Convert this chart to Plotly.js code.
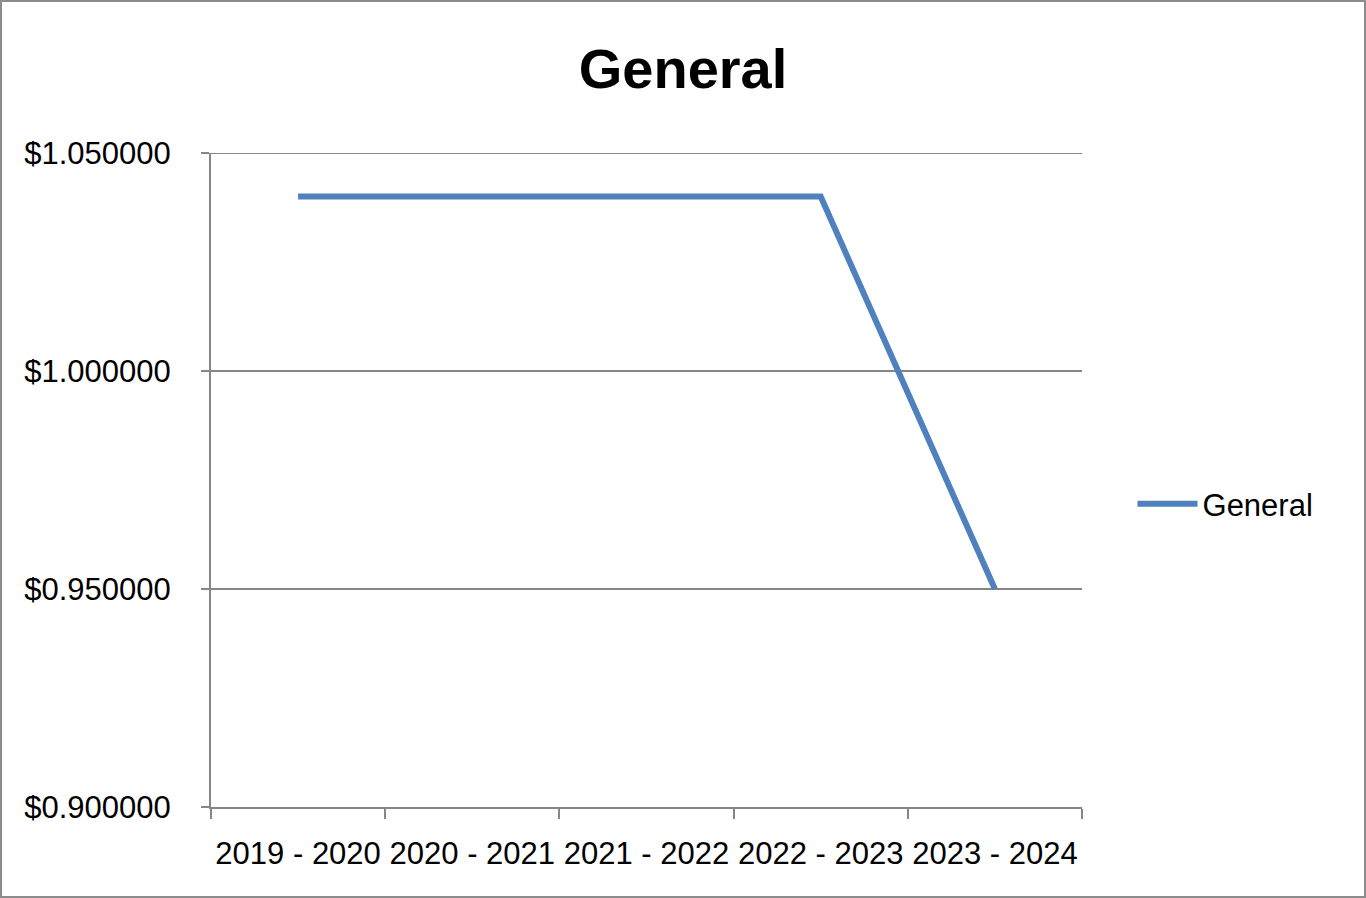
<!DOCTYPE html>
<html>
<head>
<meta charset="utf-8">
<script src="https://cdn.plot.ly/plotly-3.0.1.min.js"></script>
<style>
html,body{margin:0;padding:0;background:#fff;}
#chart{width:1366px;height:898px;box-sizing:border-box;border:2px solid #8c8c8c;}
</style>
</head>
<body>
<div id="chart"></div>
<script>
const categories = ["2019 - 2020","2020 - 2021","2021 - 2022","2022 - 2023","2023 - 2024"];
const generalValues = [1.04, 1.04, 1.04, 1.04, 0.95];
const seriesName = "General";
const chartTitle = "General";
const yMin = 0.9, yMax = 1.05, yStep = 0.05;

const fontFam = "Liberation Sans, Arial, sans-serif";
const axisColor = "#868686";

Plotly.newPlot("chart", [{
  x: categories,
  y: generalValues,
  name: seriesName,
  type: "scatter",
  mode: "lines",
  line: {color: "#4F81BD", width: 6},
  showlegend: true
}], {
  width: 1362, height: 894,
  margin: {l: 209, r: 282, t: 151, b: 89},
  paper_bgcolor: "#fff", plot_bgcolor: "#fff",
  font: {family: fontFam, size: 31, color: "#000"},
  title: {text: chartTitle, font: {family: fontFam, size: 56, weight: "bold", color: "#000"}, x: 0.5, xanchor: "center", y: 0.926, yanchor: "middle"},
  xaxis: {
    type: "category",
    tickson: "boundaries",
    tickangle: 0,
    ticks: "outside", ticklen: 10, tickwidth: 2, tickcolor: axisColor,
    showline: true, linecolor: axisColor, linewidth: 2,
    showgrid: false, zeroline: false,
    ticklabelstandoff: 18,
    tickfont: {size: 31, family: fontFam, color: "#000"},
    range: [-0.5, 4.5], fixedrange: true
  },
  yaxis: {
    range: [yMin, yMax], dtick: yStep, tick0: yMin,
    tickformat: "$.6f",
    ticks: "outside", ticklen: 8, tickwidth: 2, tickcolor: axisColor,
    showline: true, linecolor: axisColor, linewidth: 2,
    showgrid: true, gridcolor: axisColor, gridwidth: 2,
    zeroline: false,
    ticklabelstandoff: 24,
    tickfont: {size: 31, family: fontFam, color: "#000"},
    fixedrange: true
  },
  shapes: [{type: "line", xref: "paper", x0: 0, x1: 1, yref: "y", y0: yMax, y1: yMax, line: {color: axisColor, width: 2}, layer: "below"}],
  showlegend: true,
  legend: {x: 1.058, xanchor: "left", y: 0.463, yanchor: "middle", font: {size: 31, family: fontFam, color: "#000"}, bgcolor: "rgba(0,0,0,0)", itemwidth: 60}
}, {displayModeBar: false, staticPlot: true});
</script>
</body>
</html>
